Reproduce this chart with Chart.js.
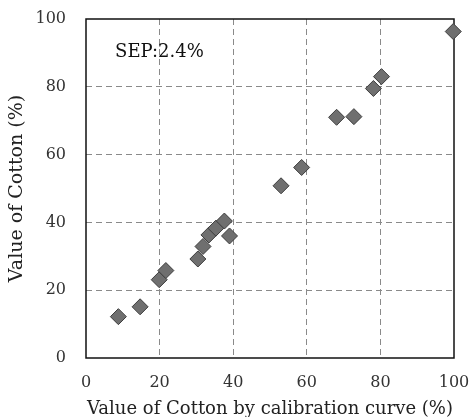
<!DOCTYPE html>
<html>
<head>
<meta charset="utf-8">
<script src="https://cdn.jsdelivr.net/npm/chart.js"></script>
<style>
  html, body { margin: 0; padding: 0; background: #fff; }
</style>
</head>
<body>
<canvas id="cottonChart" width="470" height="417"></canvas>
<script>
// values
const calibrationValues = [8.8, 14.7, 19.9, 21.7, 30.4, 31.8, 33.4, 35.3, 37.6, 39.0, 53.0, 58.6, 68.1, 72.8, 78.1, 80.3, 99.8];
const cottonValues      = [12.2, 15.1, 23.1, 25.8, 29.2, 32.9, 36.3, 38.3, 40.4, 36.0, 50.8, 56.2, 71.0, 71.2, 79.5, 83.0, 96.3];
const xTickValues = [0, 20, 40, 60, 80, 100];
const yTickValues = [0, 20, 40, 60, 80, 100];
const sepText = 'SEP:2.4%';
const xTitle = 'Value of Cotton by calibration curve (%)';
const yTitle = 'Value of Cotton (%)';

const fontFamily = '"DejaVu Serif", "Liberation Serif", serif';

// black frame round the plot area, drawn under the markers
const framePlugin = {
  id: 'frame',
  beforeDatasetsDraw(chart) {
    const { ctx, chartArea: a } = chart;
    ctx.save();
    ctx.strokeStyle = '#111';
    ctx.lineWidth = 1.5;
    ctx.strokeRect(a.left, a.top, a.right - a.left, a.bottom - a.top);
    ctx.restore();
  }
};

// SEP label placed in data coordinates
const sepPlugin = {
  id: 'sepLabel',
  afterDraw(chart) {
    const { ctx, scales } = chart;
    ctx.save();
    ctx.font = '18px ' + fontFamily;
    ctx.fillStyle = '#111';
    ctx.textBaseline = 'middle';
    ctx.fillText(sepText, scales.x.getPixelForValue(7.9), scales.y.getPixelForValue(90.3));
    ctx.restore();
  }
};

const points = calibrationValues.map((x, i) => ({ x: x, y: cottonValues[i] }));

const gridColor = ctx => (ctx.tick && (ctx.tick.value === 0 || ctx.tick.value === 100)) ? 'rgba(0,0,0,0)' : '#8a8a8a';

// fix axis box sizes so the plot area lands where it is in the figure
const fixBox = size => s => {
  if (s.isHorizontal()) s.height = size; else s.width = size;
  s.paddingTop = 0; s.paddingBottom = 0; s.paddingLeft = 0; s.paddingRight = 0;
};

new Chart(document.getElementById('cottonChart').getContext('2d'), {
  type: 'scatter',
  data: {
    datasets: [{
      data: points,
      pointStyle: 'rectRot',
      pointRadius: 8,
      pointHoverRadius: 8,
      backgroundColor: '#6f6f6f',
      borderColor: '#3c3c3c',
      borderWidth: 1,
      clip: false
    }]
  },
  options: {
    responsive: false,
    animation: false,
    layout: { padding: { top: 19, right: 16, left: 0, bottom: 0 } },
    plugins: { legend: { display: false }, tooltip: { enabled: false } },
    scales: {
      x: {
        min: 0, max: 100,
        afterBuildTicks: s => { s.ticks = xTickValues.map(v => ({ value: v })); },
        afterFit: fixBox(59),
        grid: { color: gridColor, drawTicks: false, lineWidth: 1 },
        border: { display: false, dash: [6, 4] },
        ticks: { padding: 15, color: '#333', font: { family: fontFamily, size: 16 }, maxRotation: 0 },
        title: { display: true, text: xTitle, color: '#222', font: { family: fontFamily, size: 18 }, padding: { top: 0, bottom: -3 } }
      },
      y: {
        min: 0, max: 100,
        afterBuildTicks: s => { s.ticks = yTickValues.map(v => ({ value: v })); },
        afterFit: fixBox(86),
        grid: { color: gridColor, drawTicks: false, lineWidth: 1 },
        border: { display: false, dash: [6, 4] },
        ticks: { padding: 20, color: '#333', font: { family: fontFamily, size: 16 } },
        title: { display: true, text: yTitle, color: '#222', font: { family: fontFamily, size: 19 }, padding: { top: 6, bottom: 0 } }
      }
    }
  },
  plugins: [framePlugin, sepPlugin]
});
</script>
</body>
</html>
